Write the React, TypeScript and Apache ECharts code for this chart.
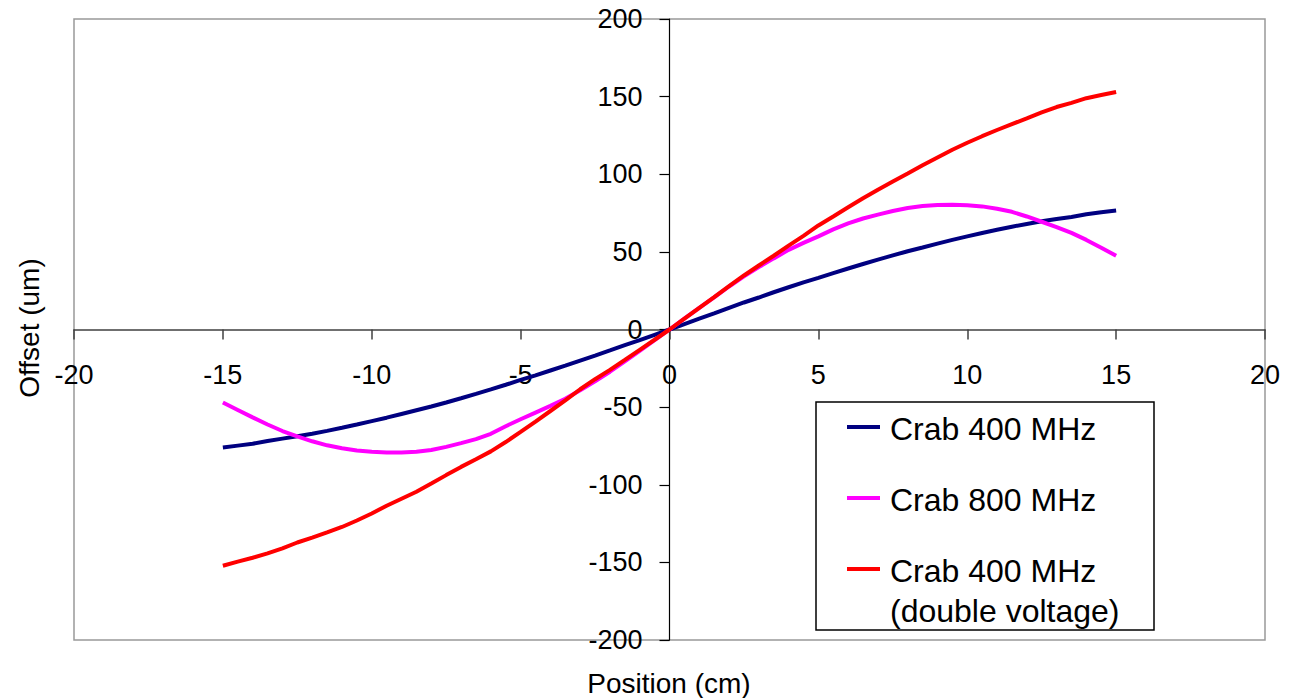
import React, { useEffect, useRef } from "react";
import * as echarts from "echarts";

const positions = [
  -15, -14.5, -14, -13.5, -13, -12.5, -12, -11.5, -11, -10.5,
  -10, -9.5, -9, -8.5, -8, -7.5, -7, -6.5, -6, -5.5,
  -5, -4.5, -4, -3.5, -3, -2.5, -2, -1.5, -1, -0.5,
  0,
  0.5, 1, 1.5, 2, 2.5, 3, 3.5, 4, 4.5, 5,
  5.5, 6, 6.5, 7, 7.5, 8, 8.5, 9, 9.5, 10,
  10.5, 11, 11.5, 12, 12.5, 13, 13.5, 14, 14.5, 15,
];

const crab400 = [
  -76.0, -74.8, -73.6, -71.8, -70.3, -68.8, -67.2, -65.3, -63.3, -61.2,
  -59.0, -56.8, -54.4, -52.0, -49.6, -47.0, -44.3, -41.5, -38.6, -35.6,
  -32.5, -29.5, -26.4, -23.3, -20.0, -16.8, -13.5, -10.1, -6.8, -3.4,
  0,
  3.5, 7.0, 10.4, 14.0, 17.4, 20.6, 24.0, 27.2, 30.3, 33.2,
  36.3, 39.3, 42.2, 45.0, 47.7, 50.4, 52.8, 55.3, 57.7, 60.0,
  62.2, 64.2, 66.2, 68.0, 69.7, 71.2, 72.5, 74.2, 75.5, 76.6,
];

const crab800 = [
  -47.0, -51.8, -56.6, -61.2, -65.4, -68.9, -72.0, -74.6, -76.5, -77.9,
  -78.8, -79.3, -79.3, -78.8, -77.6, -75.6, -73.2, -70.6, -67.2, -62.3,
  -57.8, -53.5, -49.2, -44.6, -39.2, -33.3, -27.2, -20.5, -13.8, -6.9,
  0,
  7.0, 14.0, 20.7, 27.7, 34.2, 40.2, 45.8, 51.3, 55.8, 60.0,
  64.5, 68.3, 71.5, 74.0, 76.3, 78.3, 79.5, 80.2, 80.4, 80.1,
  79.3, 77.8, 75.8, 72.8, 69.4, 66.0, 62.2, 57.7, 52.7, 47.5,
];

const crab400Double = [
  -152.2, -149.5, -147.0, -144.2, -141.0, -137.2, -134.0, -130.7, -127.2, -123.0,
  -118.5, -113.5, -109.0, -104.5, -99.2, -93.8, -88.5, -83.6, -78.5, -72.5,
  -66.0, -59.3, -52.5, -45.7, -38.5, -32.0, -26.0, -19.6, -13.1, -6.6,
  0,
  7.0, 14.0, 20.8, 28.0, 34.8, 41.2, 47.5, 54.0, 60.3, 67.0,
  72.8, 78.7, 84.5, 90.0, 95.3, 100.5, 105.8, 110.8, 115.8, 120.3,
  124.5, 128.5, 132.3, 136.0, 139.8, 143.3, 146.0, 149.0, 151.0, 153.0,
];

const seriesNames = ["Crab 400 MHz", "Crab 800 MHz", "Crab 400 MHz (double voltage)"];
const legendLines = [["Crab 400 MHz"], ["Crab 800 MHz"], ["Crab 400 MHz", "(double voltage)"]];
const colors = ["#000080", "#ff00ff", "#ff0000"];
const xTitle = "Position (cm)";
const yTitle = "Offset (um)";

const FONT = '"Liberation Sans", Arial, sans-serif';

export default function App() {
  const ref = useRef<HTMLDivElement>(null);
  useEffect(() => {
    if (!ref.current) return;
    const chart = echarts.init(ref.current, undefined, { renderer: "svg" });
    const pair = (ys: number[]) => positions.map((x, i) => [x, ys[i]]);
    const allSeries = [crab400, crab800, crab400Double];

    const W = 1289, H = 698;
    const gL = 74, gR = 24, gT = 19, gB = 58;
    const gW = W - gL - gR;
    const gH = H - gT - gB;

    const rowY = [429, 500, 571];
    const legendElems: any[] = [
      {
        type: "rect",
        shape: { x: 816, y: 402, width: 338, height: 228 },
        style: { fill: "#fff", stroke: "#000", lineWidth: 1.5 },
        z: 100,
      },
    ];
    legendLines.forEach((lines, i) => {
      legendElems.push({
        type: "line",
        shape: { x1: 847, y1: rowY[i] - 2, x2: 880, y2: rowY[i] - 2 },
        style: { stroke: colors[i], lineWidth: 4 },
        z: 101,
      });
      lines.forEach((t, j) => {
        legendElems.push({
          type: "text",
          x: 890,
          y: rowY[i] + j * 40,
          style: {
            text: t,
            fontSize: 32,
            fontFamily: FONT,
            fill: "#000",
            textAlign: "left",
            textVerticalAlign: "middle",
          },
          z: 101,
        });
      });
    });

    chart.setOption({
      animation: false,
      backgroundColor: "#fff",
      grid: {
        left: gL,
        right: gR,
        top: gT,
        bottom: gB,
        show: true,
        borderColor: "#999",
        borderWidth: 1.5,
        containLabel: false,
        outerBoundsMode: "none",
      },
      xAxis: {
        type: "value",
        min: -20,
        max: 20,
        interval: 5,
        position: "bottom",
        offset: -gH / 2,
        axisLine: { show: true, onZero: false, lineStyle: { color: "#404040", width: 1.5 } },
        axisTick: { show: true, length: 10, inside: false, lineStyle: { color: "#404040", width: 1.5 } },
        axisLabel: { margin: 32, fontSize: 27, fontFamily: FONT, color: "#000" },
        splitLine: { show: false },
      },
      yAxis: {
        type: "value",
        min: -200,
        max: 200,
        interval: 50,
        position: "left",
        offset: -gW / 2,
        axisLine: { show: true, onZero: false, lineStyle: { color: "#000", width: 1.2 } },
        axisTick: { show: true, length: 10, inside: false, lineStyle: { color: "#000", width: 1.2 } },
        axisLabel: { margin: 27, fontSize: 27, fontFamily: FONT, color: "#000" },
        splitLine: { show: false },
      },
      series: allSeries.map((ys, i) => ({
        name: seriesNames[i],
        type: "line",
        data: pair(ys),
        showSymbol: false,
        symbol: "none",
        lineStyle: { color: colors[i], width: 4 },
        itemStyle: { color: colors[i] },
        z: 2 + i,
      })),
      graphic: [
        {
          type: "text",
          x: 669,
          y: 683,
          style: {
            text: xTitle,
            fontSize: 28,
            fontFamily: FONT,
            fill: "#000",
            textAlign: "center",
            textVerticalAlign: "middle",
          },
        },
        {
          type: "text",
          x: 29,
          y: 328,
          rotation: Math.PI / 2,
          style: {
            text: yTitle,
            fontSize: 28,
            fontFamily: FONT,
            fill: "#000",
            textAlign: "center",
            textVerticalAlign: "middle",
          },
        },
        ...legendElems,
      ],
    });
    return () => chart.dispose();
  }, []);
  return (
    <div
      ref={ref}
      style={{ position: "fixed", left: 0, top: 0, width: 1289, height: 698, background: "#fff" }}
    />
  );
}
